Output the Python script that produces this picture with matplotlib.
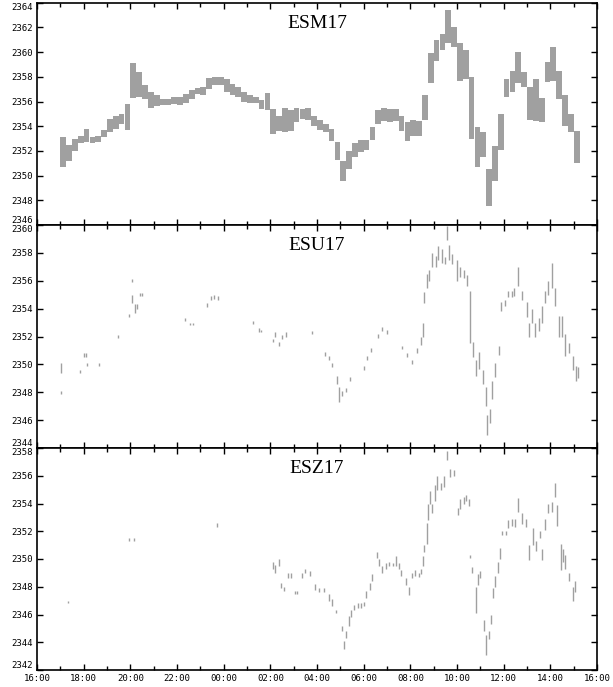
import numpy as np
import matplotlib.pyplot as plt
from matplotlib.ticker import MultipleLocator, FuncFormatter

# tiempo en horas desde las 16:00 (inicio de sesion)
# ESM17: barras de 15 minutos desde las 17:00
esm_lo = [2350.7, 2351.2, 2352.0, 2352.6, 2352.7, 2352.6, 2352.7, 2353.1, 2353.5, 2353.8,
          2354.2, 2353.7, 2356.3, 2356.4, 2356.2, 2355.5, 2355.6, 2355.7, 2355.7, 2355.8,
          2355.7, 2355.9, 2356.2, 2356.6, 2356.5, 2357.0, 2357.3, 2357.3, 2356.8, 2356.5,
          2356.4, 2356.0, 2355.9, 2355.9, 2355.4, 2355.3, 2353.4, 2353.6, 2353.5, 2353.6,
          2354.3, 2354.6, 2354.5, 2354.0, 2353.7, 2353.5, 2352.8, 2351.3, 2349.6, 2350.5,
          2351.5, 2351.9, 2352.1, 2352.9, 2354.2, 2354.4, 2354.3, 2354.4, 2353.6, 2352.8,
          2353.2, 2353.2, 2354.5, 2357.5, 2359.3, 2360.2, 2360.7, 2360.4, 2357.7, 2357.8,
          2353.0, 2350.7, 2351.5, 2347.5, 2349.6, 2352.1, 2356.4, 2356.8, 2357.5, 2357.2,
          2354.5, 2354.4, 2354.3, 2357.6, 2357.7, 2356.2, 2354.0, 2353.5, 2351.0]
esm_hi = [2353.1, 2352.5, 2353.0, 2353.2, 2353.8, 2353.1, 2353.2, 2353.7, 2354.6, 2354.8,
          2355.0, 2355.8, 2359.1, 2358.4, 2357.3, 2356.8, 2356.5, 2356.2, 2356.2, 2356.4,
          2356.4, 2356.6, 2356.9, 2357.1, 2357.2, 2357.9, 2358.0, 2358.0, 2357.8, 2357.4,
          2357.2, 2356.8, 2356.5, 2356.4, 2356.1, 2356.7, 2355.4, 2354.8, 2355.5, 2355.3,
          2355.5, 2355.4, 2355.5, 2354.8, 2354.5, 2354.2, 2353.8, 2352.7, 2351.2, 2352.0,
          2352.6, 2352.9, 2352.9, 2353.9, 2355.3, 2355.5, 2355.4, 2355.4, 2354.8, 2354.3,
          2354.5, 2354.4, 2356.5, 2359.9, 2361.0, 2361.5, 2363.4, 2362.0, 2360.7, 2360.2,
          2358.0, 2353.9, 2353.5, 2350.5, 2352.4, 2355.0, 2357.8, 2358.5, 2360.0, 2358.4,
          2357.2, 2357.8, 2356.3, 2359.2, 2360.4, 2358.5, 2356.5, 2355.0, 2353.6]
esm_t0 = 1.0
esm_paso = 0.25

# ESU17: operaciones sueltas
esu_t = [1.03, 1.03, 1.84, 2.0, 2.1, 2.15, 2.65, 3.48, 3.95, 4.05,
         4.05, 4.2, 4.3, 4.4, 4.5, 6.35, 6.55, 6.7, 7.3, 7.45,
         7.6, 7.75, 9.26, 9.5, 9.6, 10.1, 10.2, 10.35, 10.5, 10.65,
         11.8, 12.35, 12.5, 12.65, 12.85, 12.95, 13.05, 13.25, 13.4, 14.0,
         14.15, 14.3, 14.6, 14.8, 15.0, 15.65, 15.85, 16.05, 16.3, 16.45,
         16.55, 16.6, 16.7, 16.8, 16.95, 17.1, 17.2, 17.35, 17.5, 17.55,
         17.65, 17.8, 18.0, 18.15, 18.3, 18.45, 18.55, 18.7, 18.8, 18.95,
         19.1, 19.25, 19.3, 19.4, 19.5, 19.65, 19.8, 19.9, 20.05, 20.2,
         20.35, 20.45, 20.6, 20.8, 21.0, 21.1, 21.2, 21.35, 21.5, 21.65,
         21.75, 21.9, 22.05, 22.2, 22.35, 22.5, 22.65, 22.8, 22.95, 23.1,
         23.2]
esu_lo = [2349.4, 2347.9, 2349.4, 2350.5, 2350.5, 2349.9, 2349.9, 2351.9, 2353.4, 2354.4,
          2355.9, 2353.7, 2354.0, 2354.9, 2354.9, 2353.1, 2352.8, 2352.8, 2354.1, 2354.6,
          2354.7, 2354.6, 2352.9, 2352.3, 2352.3, 2351.6, 2352.0, 2351.3, 2351.8, 2352.0,
          2352.2, 2350.6, 2350.3, 2349.8, 2348.6, 2347.3, 2347.7, 2348.0, 2348.8, 2349.6,
          2350.3, 2350.9, 2351.9, 2352.4, 2352.2, 2351.1, 2350.5, 2350.0, 2350.8, 2351.4,
          2352.0, 2354.4, 2355.5, 2356.0, 2357.0, 2357.0, 2357.5, 2357.3, 2357.2, 2358.9,
          2357.5, 2357.2, 2356.0, 2356.3, 2356.2, 2355.6, 2351.5, 2350.5, 2349.2, 2349.7,
          2348.6, 2347.0, 2344.9, 2345.8, 2347.5, 2349.1, 2350.7, 2353.8, 2354.2, 2354.8,
          2354.8, 2354.9, 2355.6, 2354.6, 2353.4, 2352.0, 2353.0, 2352.0, 2352.4, 2353.0,
          2354.4, 2355.0, 2355.5, 2354.2, 2352.0, 2352.0, 2350.6, 2350.8, 2349.6, 2348.8,
          2349.0]
esu_hi = [2350.1, 2348.1, 2349.6, 2350.8, 2350.8, 2350.1, 2350.1, 2352.1, 2353.6, 2355.0,
          2356.1, 2354.3, 2354.3, 2355.1, 2355.1, 2353.3, 2353.0, 2353.0, 2354.4, 2354.9,
          2355.0, 2354.9, 2353.1, 2352.6, 2352.5, 2351.8, 2352.3, 2351.6, 2352.1, 2352.3,
          2352.4, 2350.9, 2350.6, 2350.1, 2349.2, 2348.4, 2348.1, 2348.3, 2349.1, 2349.9,
          2350.6, 2351.2, 2352.2, 2352.7, 2352.5, 2351.3, 2350.8, 2350.3, 2351.2, 2352.0,
          2353.0, 2355.2, 2356.5, 2356.8, 2358.0, 2357.8, 2358.5, 2358.3, 2357.7, 2359.9,
          2358.6, 2357.9, 2357.5, 2357.0, 2356.8, 2356.4, 2355.3, 2351.6, 2350.3, 2350.9,
          2349.6, 2348.4, 2346.4, 2346.8, 2348.8, 2350.1, 2351.3, 2354.5, 2354.6, 2355.3,
          2355.3, 2355.5, 2357.0, 2355.3, 2354.5, 2353.0, 2354.0, 2353.0, 2353.3, 2354.2,
          2355.3, 2356.0, 2357.3, 2355.5, 2353.5, 2353.5, 2352.2, 2351.5, 2350.6, 2349.9,
          2349.8]

# ESZ17: operaciones sueltas
esz_t = [1.32, 3.95, 4.17, 7.7, 10.1, 10.2, 10.35, 10.45, 10.6, 10.75,
         10.9, 11.05, 11.15, 11.35, 11.5, 11.7, 11.9, 12.1, 12.3, 12.5,
         12.65, 12.8, 13.05, 13.15, 13.25, 13.35, 13.45, 13.6, 13.75, 13.9,
         14.0, 14.1, 14.25, 14.35, 14.55, 14.65, 14.8, 14.95, 15.1, 15.25,
         15.4, 15.5, 15.6, 15.8, 15.95, 16.05, 16.2, 16.35, 16.45, 16.55,
         16.6, 16.7, 16.75, 16.85, 16.95, 17.05, 17.15, 17.3, 17.45, 17.55,
         17.7, 17.85, 18.05, 18.15, 18.3, 18.4, 18.5, 18.55, 18.65, 18.8,
         18.9, 19.0, 19.15, 19.25, 19.35, 19.45, 19.55, 19.65, 19.75, 19.85,
         19.95, 20.1, 20.2, 20.35, 20.5, 20.6, 20.8, 20.95, 21.1, 21.25,
         21.4, 21.55, 21.65, 21.75, 21.9, 22.05, 22.2, 22.3, 22.45, 22.55,
         22.65, 22.8, 22.95, 23.05]
esz_lo = [2346.8, 2351.3, 2351.3, 2352.3, 2349.3, 2349.0, 2349.5, 2347.9, 2347.7, 2348.6,
          2348.6, 2347.5, 2347.5, 2348.6, 2349.0, 2348.8, 2347.8, 2347.6, 2347.6, 2347.0,
          2346.6, 2346.1, 2344.8, 2343.5, 2344.3, 2345.2, 2345.8, 2346.3, 2346.5, 2346.5,
          2346.6, 2347.2, 2347.8, 2348.4, 2350.1, 2349.5, 2349.0, 2349.3, 2349.5, 2349.5,
          2349.5, 2349.3, 2348.8, 2348.1, 2347.4, 2348.6, 2348.8, 2348.7, 2348.9, 2349.5,
          2350.5, 2351.1, 2352.8, 2354.0, 2353.3, 2354.2, 2355.0, 2355.0, 2355.2, 2357.1,
          2355.9, 2356.0, 2353.2, 2353.6, 2354.0, 2354.2, 2353.8, 2350.1, 2349.0, 2346.1,
          2348.1, 2348.6, 2344.8, 2343.1, 2344.2, 2345.3, 2347.2, 2348.0, 2349.0, 2350.0,
          2351.7, 2351.7, 2352.2, 2352.4, 2352.3, 2353.4, 2352.5, 2352.3, 2349.9, 2351.0,
          2350.6, 2351.5, 2349.9, 2352.1, 2353.3, 2353.4, 2354.5, 2352.4, 2349.2, 2349.8,
          2349.3, 2348.4, 2347.0, 2347.6]
esz_hi = [2347.0, 2351.5, 2351.5, 2352.6, 2349.8, 2349.6, 2350.0, 2348.3, 2348.0, 2349.0,
          2349.0, 2347.7, 2347.7, 2349.0, 2349.3, 2349.1, 2348.2, 2347.9, 2347.9, 2347.5,
          2347.1, 2346.3, 2345.2, 2344.1, 2344.8, 2345.9, 2346.3, 2346.7, 2346.8, 2346.8,
          2346.9, 2347.7, 2348.3, 2348.9, 2350.5, 2350.0, 2349.5, 2349.7, 2349.8, 2349.7,
          2350.2, 2349.7, 2349.2, 2348.6, 2348.0, 2349.0, 2349.2, 2349.0, 2349.3, 2350.2,
          2351.0, 2352.6, 2354.0, 2354.9, 2354.0, 2355.3, 2356.0, 2355.5, 2356.0, 2357.8,
          2356.5, 2356.4, 2353.7, 2354.3, 2354.5, 2354.6, 2354.3, 2350.3, 2349.4, 2348.0,
          2348.9, 2349.1, 2345.6, 2344.5, 2344.8, 2346.0, 2347.9, 2348.8, 2349.8, 2350.8,
          2352.0, 2352.0, 2352.8, 2352.9, 2352.9, 2354.4, 2353.3, 2352.9, 2351.0, 2352.2,
          2351.3, 2352.0, 2350.7, 2352.9, 2354.0, 2354.1, 2355.5, 2353.9, 2351.1, 2350.7,
          2350.3, 2349.0, 2348.0, 2348.4]

titulos = ["ESM17", "ESU17", "ESZ17"]
rangos_y = [(2346, 2364), (2344, 2360), (2342, 2358)]
gris = "#a0a0a0"

fig = plt.figure(figsize=(6.13, 6.87), dpi=100)
izq, ancho = 37 / 613, 560 / 613
bordes = [(2.7, 225), (225, 448), (448, 670)]
axes = []
for i, (top, bot) in enumerate(bordes):
    ax = fig.add_axes([izq, 1 - bot / 687, ancho, (bot - top) / 687],
                      sharex=axes[0] if axes else None)
    axes.append(ax)

# panel 1: barras densas
ax = axes[0]
esm_t = esm_t0 + esm_paso * np.arange(len(esm_lo))
ax.bar(esm_t, np.array(esm_hi) - np.array(esm_lo), bottom=esm_lo,
       width=esm_paso, align="edge", color=gris, linewidth=0)

# paneles 2 y 3: ticks sueltos
axes[1].vlines(esu_t, esu_lo, esu_hi, color=gris, linewidth=1.0)
axes[2].vlines(esz_t, esz_lo, esz_hi, color=gris, linewidth=1.0)

def hora(x, pos):
    return "%02d:00" % ((16 + int(round(x))) % 24)

for ax, tit, (y0, y1) in zip(axes, titulos, rangos_y):
    ax.set_xlim(0, 24)
    ax.set_ylim(y0, y1)
    ax.set_yticks(np.arange(y0, y1 + 1, 2))
    ax.xaxis.set_major_locator(MultipleLocator(2))
    ax.xaxis.set_minor_locator(MultipleLocator(1))
    ax.xaxis.set_major_formatter(FuncFormatter(hora))
    ax.tick_params(which="both", direction="in", top=True, right=True,
                   width=1.0, colors="black",
                   labelsize=6.5, pad=3)
    ax.tick_params(which="major", length=4.5)
    ax.tick_params(which="minor", length=3)
    for s in ax.spines.values():
        s.set_linewidth(1.2)
    for lab in ax.get_yticklabels() + ax.get_xticklabels():
        lab.set_family("DejaVu Sans Mono")
    tk = ax.yaxis.get_major_ticks()
    tk[0].label1.set_va("bottom")
    tk[-1].label1.set_va("top")
    ax.text(0.5, 0.945, tit, transform=ax.transAxes, ha="center", va="top",
            fontsize=14, family="Liberation Serif")

for ax in axes[:2]:
    ax.tick_params(labelbottom=False)

plt.savefig("out.png", dpi=100)
